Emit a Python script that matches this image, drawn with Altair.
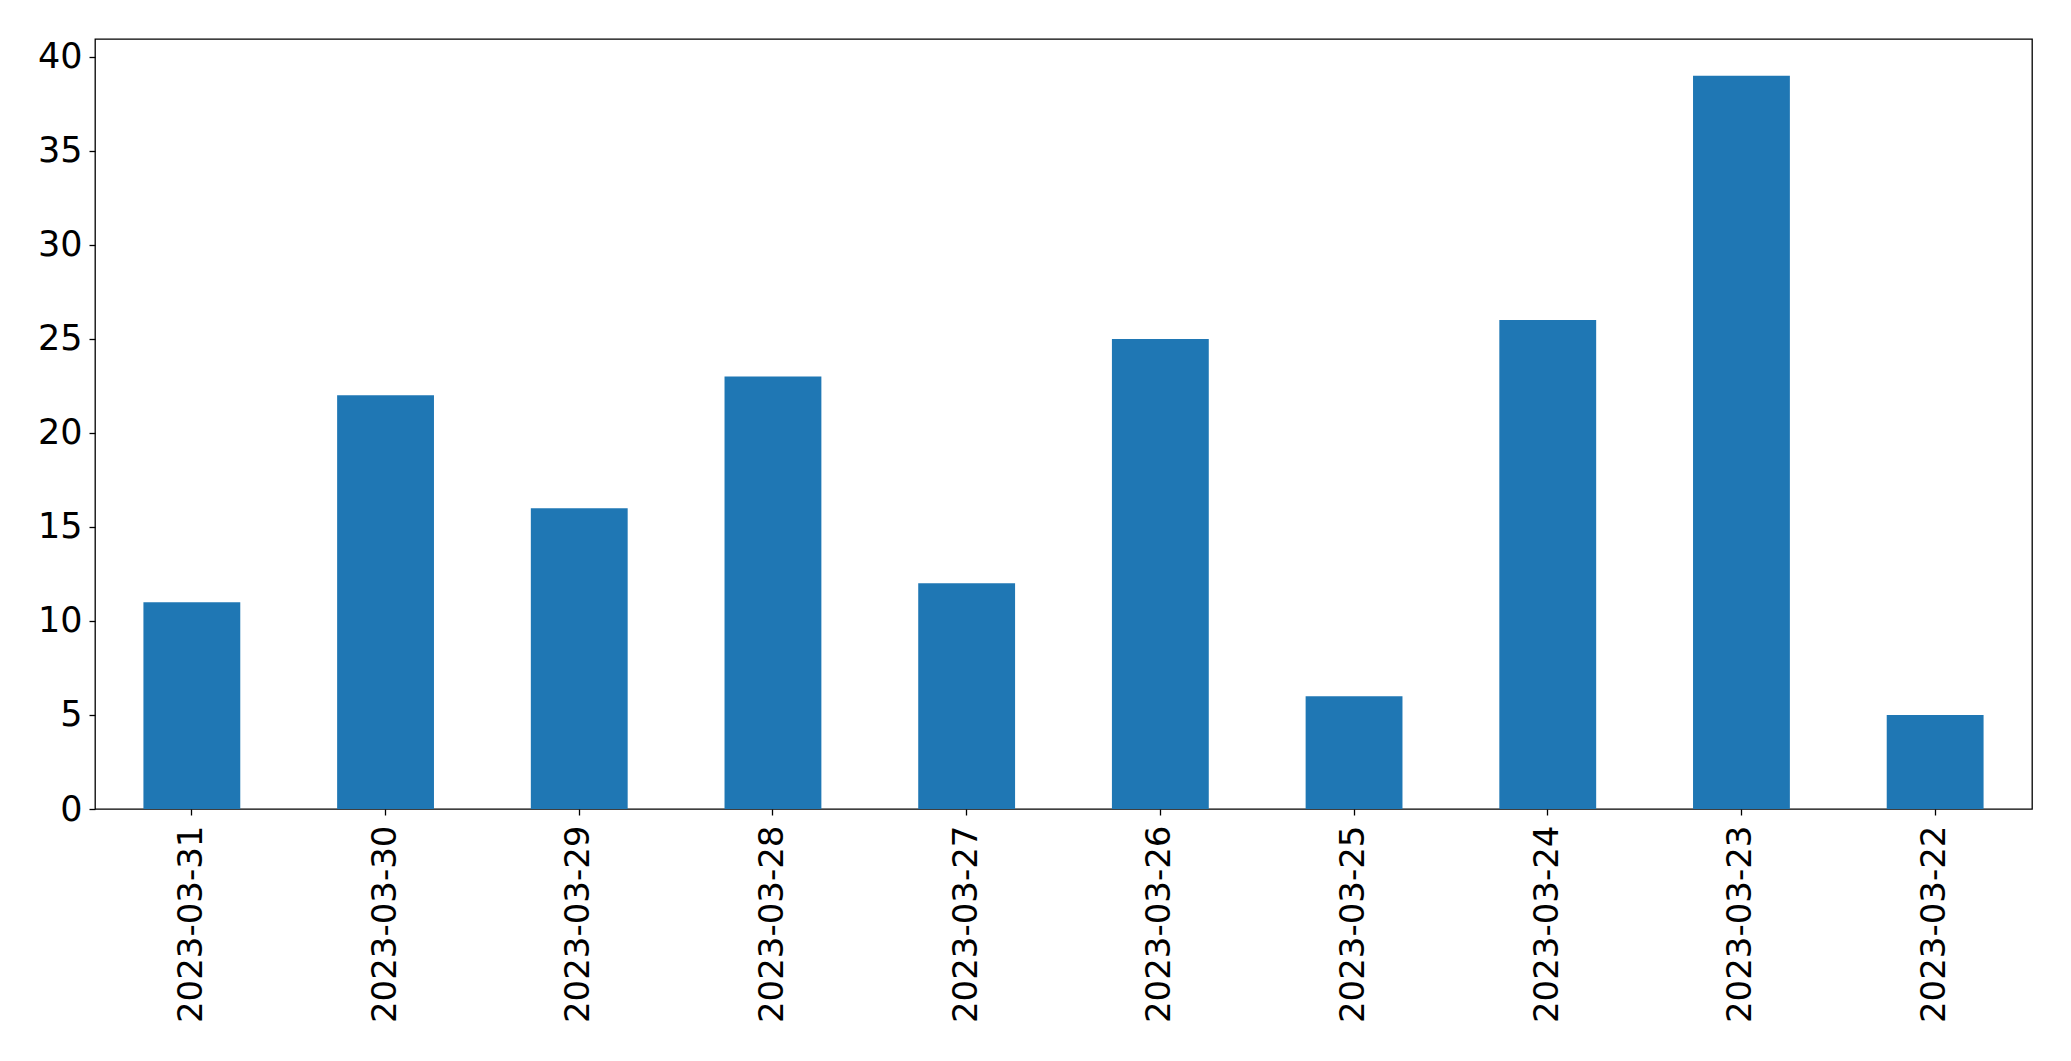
import altair as alt
import pandas as pd

dates = ["2023-03-31", "2023-03-30", "2023-03-29", "2023-03-28", "2023-03-27",
         "2023-03-26", "2023-03-25", "2023-03-24", "2023-03-23", "2023-03-22"]
counts = [11, 22, 16, 23, 12, 25, 6, 26, 39, 5]

df = pd.DataFrame({"date": dates, "count": counts})

FONT = "DejaVu Sans"

chart = (
    alt.Chart(df)
    .mark_bar(color="#1f77b4")
    .encode(
        x=alt.X(
            "date:N",
            sort=None,
            title=None,
            scale=alt.Scale(paddingInner=0.5, paddingOuter=0.25),
            axis=alt.Axis(
                labelAngle=270,
                labelFont=FONT,
                labelFontSize=34,
                labelColor="black",
                labelLimit=0,
                tickColor="black",
                tickSize=6,
                tickWidth=1.3,
                labelPadding=10,
                domain=False,
            ),
        ),
        y=alt.Y(
            "count:Q",
            title=None,
            scale=alt.Scale(domain=[0, 40.95], nice=False, zero=True),
            axis=alt.Axis(
                values=[0, 5, 10, 15, 20, 25, 30, 35, 40],
                labelFont=FONT,
                labelFontSize=35,
                labelColor="black",
                tickColor="black",
                tickSize=6,
                tickWidth=1.3,
                labelPadding=7,
                grid=False,
                domain=False,
            ),
        ),
    )
    .properties(
        width=1937,
        height=770,
        autosize=alt.AutoSizeParams(type="none"),
        padding={"left": 95, "top": 39, "right": 39, "bottom": 252},
        background="white",
    )
    .configure_view(stroke="black", strokeWidth=1.3)
)

chart.save("out.html", embed_options={"renderer": "svg", "actions": False})
